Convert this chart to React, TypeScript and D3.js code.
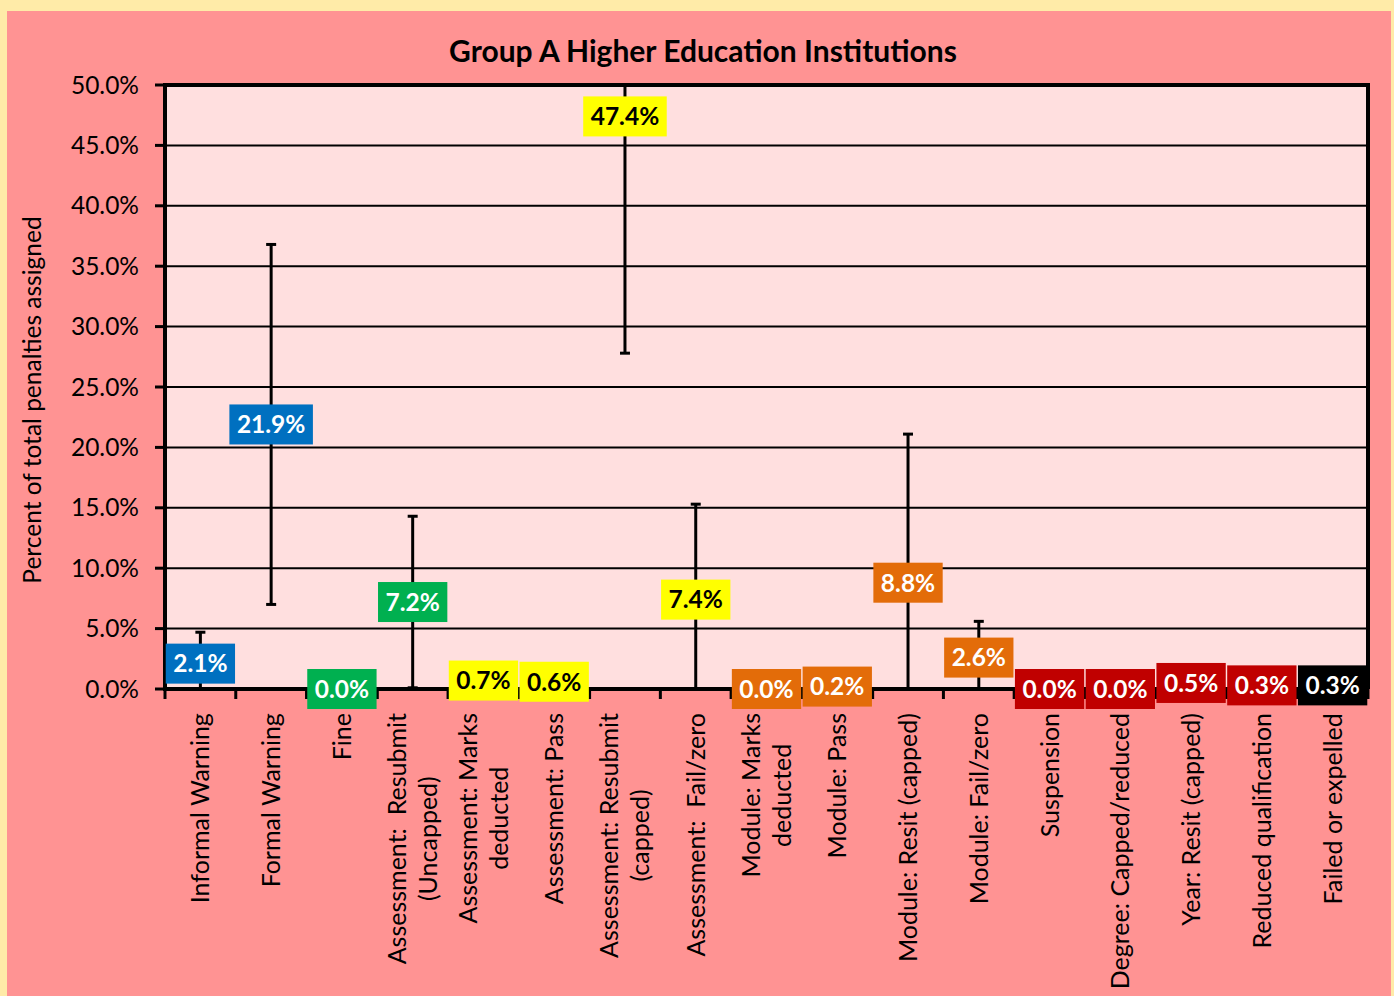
import React from "react";
import * as d3 from "d3";

const title = "Group A Higher Education Institutions";
const yAxisTitle = "Percent of total penalties assigned";

const categoryLines: string[][] = [
  ["Informal Warning"],
  ["Formal Warning"],
  ["Fine"],
  ["Assessment:  Resubmit", "(Uncapped)"],
  ["Assessment: Marks", "deducted"],
  ["Assessment: Pass"],
  ["Assessment: Resubmit", "(capped)"],
  ["Assessment:  Fail/zero"],
  ["Module: Marks", "deducted"],
  ["Module: Pass"],
  ["Module: Resit (capped)"],
  ["Module: Fail/zero"],
  ["Suspension"],
  ["Degree: Capped/reduced"],
  ["Year: Resit (capped)"],
  ["Reduced qualification"],
  ["Failed or expelled"],
];

const values = [2.1, 21.9, 0.0, 7.2, 0.7, 0.6, 47.4, 7.4, 0.0, 0.2, 8.8, 2.6, 0.0, 0.0, 0.5, 0.3, 0.3];
const errors = [2.6, 14.9, 0, 7.1, 0, 0, 19.6, 7.9, 0, 0, 12.3, 3.0, 0, 0, 0, 0, 0];

const BLUE = "#0070C0";
const GREEN = "#00B050";
const YELLOW = "#FFFF00";
const ORANGE = "#E36C09";
const RED = "#C00000";
const BLACK = "#000000";
const labelColors = [BLUE, BLUE, GREEN, GREEN, YELLOW, YELLOW, YELLOW, YELLOW, ORANGE, ORANGE, ORANGE, ORANGE, RED, RED, RED, RED, BLACK];

const yTicks = [0, 5, 10, 15, 20, 25, 30, 35, 40, 45, 50];

const FONT = "Lato, 'Open Sans', sans-serif";

let ctx: CanvasRenderingContext2D | null = null;
function measure(text: string, font: string): number {
  if (!ctx) ctx = document.createElement("canvas").getContext("2d");
  if (!ctx) return text.length * 10;
  ctx.font = font;
  return ctx.measureText(text).width;
}

export default function App() {
  const W = 1394;
  const H = 996;
  const left = 165, right = 1368, top = 85, bottom = 689;
  const x = d3.scaleBand<number>().domain(values.map((_, i) => i)).range([left, right]).paddingInner(0).paddingOuter(0);
  const y = d3.scaleLinear().domain([0, 50]).range([bottom, top]);
  const bw = x.bandwidth();

  const labelFontSize = 24.5;
  const labelFont = `bold ${labelFontSize}px Lato`;
  const xLabFontSize = 25;
  const xLabFont = `${xLabFontSize}px Lato`;

  return (
    <div style={{ position: "absolute", left: 0, top: 0 }}>
      <svg width={W} height={H} style={{ display: "block" }}>
        <defs>
          <clipPath id="plotClip">
            <rect x={left} y={top} width={right - left} height={bottom - top} />
          </clipPath>
        </defs>
        <rect x={0} y={0} width={W} height={H} fill="#FFEBA8" />
        <rect x={7} y={11} width={1384} height={H - 11} fill="#FF9393" />
        <rect x={left} y={top} width={right - left} height={bottom - top} fill="#FFDFDF" />

        {/* gridlines */}
        {yTicks.slice(1, -1).map((t) => (
          <line key={"g" + t} x1={left} x2={right} y1={y(t)} y2={y(t)} stroke="#000" strokeWidth={2} />
        ))}

        {/* error bars */}
        <g clipPath="url(#plotClip)">
          {values.map((v, i) => {
            const e = errors[i];
            if (!e) return null;
            const cx = (x(i) as number) + bw / 2;
            const hi = v + e;
            const lo = v - e;
            return (
              <g key={"e" + i}>
                <line x1={cx} x2={cx} y1={y(lo)} y2={y(hi)} stroke="#000" strokeWidth={3} />
                <line x1={cx - 5} x2={cx + 5} y1={y(hi)} y2={y(hi)} stroke="#000" strokeWidth={3} />
                <line x1={cx - 5} x2={cx + 5} y1={y(lo)} y2={y(lo)} stroke="#000" strokeWidth={3} />
              </g>
            );
          })}
        </g>

        {/* plot border top/right */}
        <line x1={left} x2={right} y1={top} y2={top} stroke="#000" strokeWidth={4} />
        <line x1={right} x2={right} y1={top - 2} y2={bottom} stroke="#000" strokeWidth={4} />

        {/* y axis */}
        <line x1={left} x2={left} y1={top - 2} y2={bottom + 2} stroke="#000" strokeWidth={4} />
        {yTicks.map((t) => (
          <g key={"yt" + t}>
            <line x1={left - 10} x2={left} y1={y(t)} y2={y(t)} stroke="#000" strokeWidth={3} />
            <text x={139} y={y(t)} dy="0.35em" textAnchor="end" fontFamily={FONT} fontSize={24.5} fill="#000">
              {t.toFixed(1) + "%"}
            </text>
          </g>
        ))}

        {/* x axis */}
        <line x1={left - 2} x2={right} y1={bottom} y2={bottom} stroke="#000" strokeWidth={4} />
        {d3.range(values.length + 1).map((i) => {
          const xx = i < values.length ? (x(i) as number) : right;
          return <line key={"xt" + i} x1={xx} x2={xx} y1={bottom} y2={bottom + 10} stroke="#000" strokeWidth={3} />;
        })}

        {/* x labels */}
        {categoryLines.map((lines, i) => {
          const cx = (x(i) as number) + bw / 2;
          const widths = lines.map((l) => measure(l, xLabFont));
          const maxW = Math.max(...widths);
          const topY = 713;
          const centerY = topY + maxW / 2;
          const lineGap = 31;
          const n = lines.length;
          return (
            <g key={"xl" + i}>
              {lines.map((l, j) => {
                const off = (j - (n - 1) / 2) * lineGap;
                const lx = cx + off + 9;
                return (
                  <text
                    key={j}
                    transform={`translate(${lx},${centerY}) rotate(-90)`}
                    textAnchor="middle"
                    fontFamily={FONT}
                    fontSize={xLabFontSize}
                    fill="#000"
                    style={{ whiteSpace: "pre" }}
                  >
                    {l}
                  </text>
                );
              })}
            </g>
          );
        })}

        {/* data labels */}
        {values.map((v, i) => {
          const cx = (x(i) as number) + bw / 2;
          const cy = y(v);
          const txt = v.toFixed(1) + "%";
          const tw = measure(txt, labelFont);
          const w = tw + 15;
          const h = 40;
          const col = labelColors[i];
          return (
            <g key={"dl" + i}>
              <rect x={cx - w / 2} y={cy - h / 2} width={w} height={h} fill={col} />
              <text x={cx} y={cy} dy="0.36em" textAnchor="middle" fontFamily={FONT} fontWeight="bold" fontSize={labelFontSize} fill={col === YELLOW ? "#000" : "#fff"}>
                {txt}
              </text>
            </g>
          );
        })}

        {/* titles */}
        <text x={703} y={51} dy="0.35em" textAnchor="middle" fontFamily={FONT} fontWeight="bold" fontSize={30} fill="#000">
          {title}
        </text>
        <text transform={`translate(32,400) rotate(-90)`} dy="0.35em" textAnchor="middle" fontFamily={FONT} fontSize={24.5} fill="#000">
          {yAxisTitle}
        </text>
      </svg>
    </div>
  );
}
